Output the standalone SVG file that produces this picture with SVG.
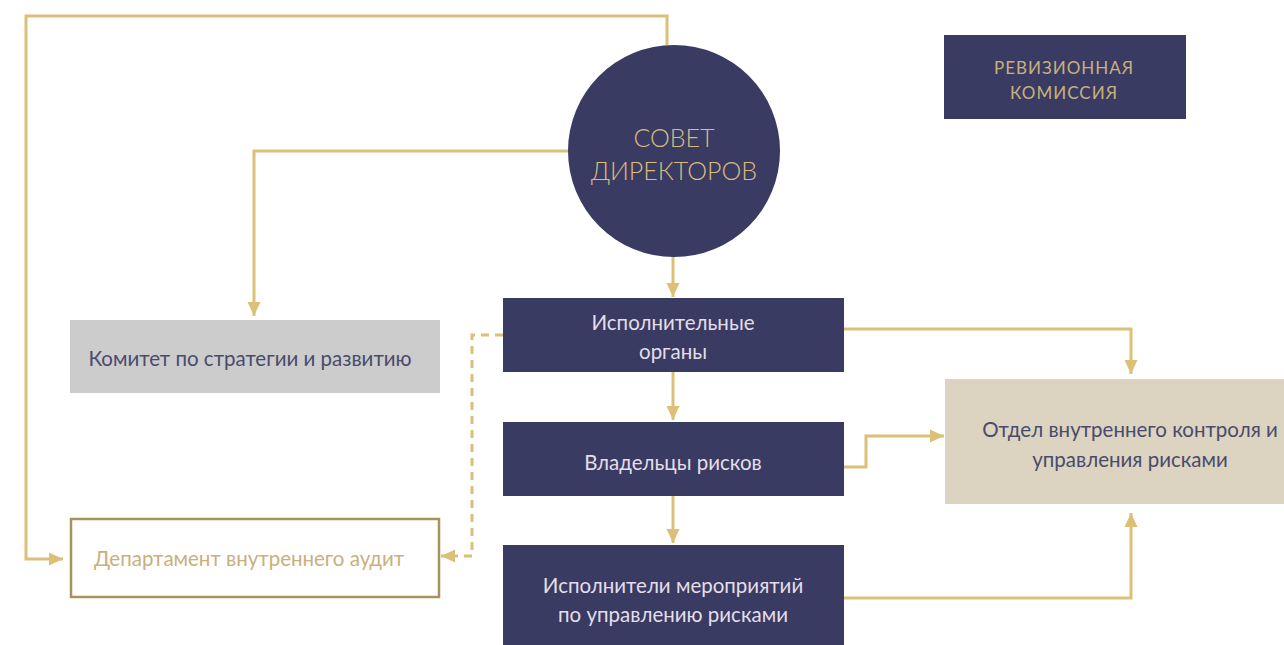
<svg xmlns="http://www.w3.org/2000/svg" width="1284" height="645" viewBox="0 0 1284 645">
<defs>
<marker id="ah" markerWidth="15" markerHeight="14" refX="14" refY="7" orient="auto" markerUnits="userSpaceOnUse">
<path d="M0,0.5 L14,7 L0,13.5 Z" fill="#dcc078"/>
</marker>
<style>
.ln{fill:none;stroke:#dcc078;stroke-width:3}
.dash{stroke-dasharray:8,6}
.navy{fill:#3a3b63}
.t{font-family:Lato,"Noto Sans",sans-serif;font-size:20.5px;text-anchor:middle}
.lt{fill:#e3dfe8}
.dk{fill:#4a4b6c}
.gd{fill:#c9b07c}
</style>
</defs>
<rect width="1284" height="645" fill="#ffffff"/>
<g id="connectors">
<polyline class="ln" points="667,45 667,16 26,16 26,559 63,559" marker-end="url(#ah)"/>
<polyline class="ln" points="568,151 254,151 254,316" marker-end="url(#ah)"/>
<polyline class="ln" points="673,257 673,297" marker-end="url(#ah)"/>
<polyline class="ln" points="673,372 673,420" marker-end="url(#ah)"/>
<polyline class="ln" points="673,496 673,543" marker-end="url(#ah)"/>
<polyline class="ln dash" points="503,335 472,335 472,556 441,556" marker-end="url(#ah)"/>
<polyline class="ln" points="844,329 1131,329 1131,374" marker-end="url(#ah)"/>
<polyline class="ln" points="844,467 866,467 866,436 944,436" marker-end="url(#ah)"/>
<polyline class="ln" points="844,598 1131,598 1131,513" marker-end="url(#ah)"/>
</g>
<g id="sovet">
<circle cx="674" cy="151" r="106" class="navy"/>
<text x="674" y="147" class="t" style="font-size:25px;font-weight:300;fill:#d8bc7c">СОВЕТ</text>
<text x="674" y="180" class="t" style="font-size:25px;font-weight:300;fill:#d8bc7c">ДИРЕКТОРОВ</text>
</g>
<g id="revizion">
<rect x="944" y="35" width="242" height="84" class="navy"/>
<text x="1064" y="74" class="t gd" style="font-size:17px;letter-spacing:1px">РЕВИЗИОННАЯ</text>
<text x="1064" y="99" class="t gd" style="font-size:17px;letter-spacing:1px">КОМИССИЯ</text>
</g>
<g id="komitet">
<rect x="70" y="320" width="370" height="73" fill="#cccccc"/>
<text x="250" y="366" class="t dk">Комитет по стратегии и развитию</text>
</g>
<g id="ispoln-organy">
<rect x="503" y="298" width="341" height="74" class="navy"/>
<text x="673" y="330" class="t lt">Исполнительные</text>
<text x="673" y="359" class="t lt">органы</text>
</g>
<g id="vladeltsy">
<rect x="503" y="422" width="341" height="74" class="navy"/>
<text x="673" y="470" class="t lt">Владельцы рисков</text>
</g>
<g id="ispolniteli">
<rect x="503" y="545" width="341" height="100" class="navy"/>
<text x="673" y="593" class="t lt">Исполнители мероприятий</text>
<text x="673" y="622" class="t lt">по управлению рисками</text>
</g>
<g id="otdel">
<rect x="945" y="379" width="339" height="125" fill="#dcd3c0"/>
<text x="1130" y="437" class="t dk">Отдел внутреннего контроля и</text>
<text x="1130" y="467" class="t dk">управления рисками</text>
</g>
<g id="departament">
<rect x="71" y="519" width="368" height="78" fill="#ffffff" stroke="#a9935c" stroke-width="2.5"/>
<text x="249" y="566" class="t gd">Департамент внутреннего аудит</text>
</g>
</svg>
